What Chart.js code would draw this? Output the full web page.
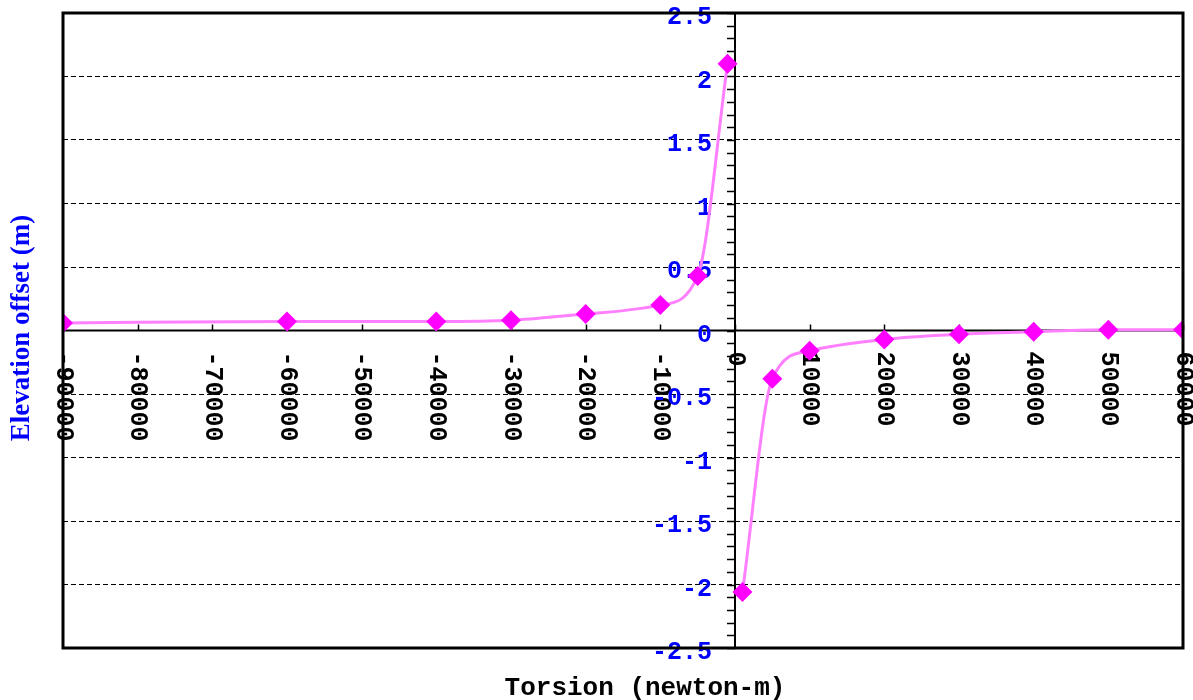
<!DOCTYPE html>
<html>
<head>
<meta charset="utf-8">
<title>Elevation offset vs torsion</title>
<script src="https://cdn.jsdelivr.net/npm/chart.js@4.4.1/dist/chart.umd.min.js"></script>
<style>
  html, body { margin: 0; padding: 0; background: #ffffff; }
  #wrap { position: relative; width: 1193px; height: 700px; }
</style>
</head>
<body>
<div id="wrap"><canvas id="chart"></canvas></div>
<script>
// Data
const leftTorsion = [-90000, -60000, -40000, -30000, -20000, -10000, -5000, -1000];
const leftOffset = [0.06, 0.07, 0.07, 0.08, 0.13, 0.2, 0.43, 2.1];
const rightTorsion = [1000, 5000, 10000, 20000, 30000, 40000, 50000, 60000];
const rightOffset = [-2.06, -0.38, -0.16, -0.07, -0.03, -0.01, 0.005, 0.005];

// Tick labels
const xTickValues = [-90000, -80000, -70000, -60000, -50000, -40000, -30000, -20000, -10000, 0, 10000, 20000, 30000, 40000, 50000, 60000];
const yTickValues = [2.5, 2, 1.5, 1, 0.5, 0, -0.5, -1, -1.5, -2, -2.5];
const yTickLabels = ["2.5", "2", "1.5", "1", "0.5", "0", "-0.5", "-1", "-1.5", "-2", "-2.5"];

const xTitle = "Torsion (newton-m)";
const yTitle = "Elevation offset (m)";

const LINE_COLOR = "#ff80ff";
const MARKER_COLOR = "#ff00ff";
const LABEL_BLUE = "#0000ff";

const toPoints = (xs, ys) => xs.map((x, i) => ({ x, y: ys[i] }));

/**
 * Axes crossing at the origin, drawn from the chart's own scales
 */
const crossAxesPlugin = {
  id: "crossAxes",
  beforeDatasetsDraw(chart) {
    const { ctx, chartArea, scales } = chart;
    const xs = scales.x;
    const ys = scales.y;
    const x0 = xs.getPixelForValue(0);
    const y0 = ys.getPixelForValue(0);

    ctx.save();
    ctx.strokeStyle = "#000000";
    ctx.lineWidth = 2;

    // horizontal axis
    ctx.beginPath();
    ctx.moveTo(chartArea.left, y0);
    ctx.lineTo(chartArea.right, y0);
    ctx.stroke();

    // vertical axis
    ctx.beginPath();
    ctx.moveTo(x0, chartArea.top);
    ctx.lineTo(x0, chartArea.bottom);
    ctx.stroke();

    // x tick marks (upwards)
    ctx.lineWidth = 1.5;
    xTickValues.forEach((v) => {
      const px = Math.round(xs.getPixelForValue(v)) + 0.5;
      ctx.beginPath();
      ctx.moveTo(px, y0);
      ctx.lineTo(px, y0 - 6);
      ctx.stroke();
    });

    // y minor tick marks every 0.1 (to the left)
    for (let i = -25; i <= 25; i++) {
      const py = Math.round(ys.getPixelForValue(i / 10)) + 0.5;
      ctx.beginPath();
      ctx.moveTo(x0 - 8, py);
      ctx.lineTo(x0, py);
      ctx.stroke();
    }

    // x tick labels, rotated clockwise
    ctx.fillStyle = "#000000";
    ctx.font = "bold 25px 'Liberation Mono', 'DejaVu Sans Mono', monospace";
    ctx.textAlign = "left";
    ctx.textBaseline = "middle";
    xTickValues.forEach((v) => {
      const px = xs.getPixelForValue(v);
      ctx.save();
      ctx.translate(px, y0 + 21);
      ctx.rotate(Math.PI / 2);
      ctx.fillText(String(v), 0, 0);
      ctx.restore();
    });

    // y tick labels
    ctx.fillStyle = LABEL_BLUE;
    ctx.textAlign = "right";
    yTickValues.forEach((v, i) => {
      const py = ys.getPixelForValue(v);
      ctx.fillText(yTickLabels[i], x0 - 23, py + 5);
    });

    ctx.restore();
  },
  afterDraw(chart) {
    const { ctx, chartArea } = chart;
    ctx.save();

    // plot frame
    ctx.strokeStyle = "#000000";
    ctx.lineWidth = 3;
    ctx.strokeRect(chartArea.left, chartArea.top, chartArea.right - chartArea.left, chartArea.bottom - chartArea.top);

    // x title
    ctx.fillStyle = "#000000";
    ctx.font = "bold 26px 'Liberation Mono', 'DejaVu Sans Mono', monospace";
    ctx.textAlign = "center";
    ctx.textBaseline = "middle";
    ctx.fillText(xTitle, 645, 688);

    // y title
    ctx.fillStyle = LABEL_BLUE;
    ctx.font = "bold 27px 'Liberation Serif', 'DejaVu Serif', serif";
    ctx.translate(22, 328);
    ctx.rotate(-Math.PI / 2);
    ctx.fillText(yTitle, 0, 0);

    ctx.restore();
  },
};

const seriesStyle = {
  borderColor: LINE_COLOR,
  borderWidth: 3,
  backgroundColor: MARKER_COLOR,
  pointBackgroundColor: MARKER_COLOR,
  pointBorderColor: MARKER_COLOR,
  pointStyle: "rectRot",
  pointRadius: 10,
  pointBorderWidth: 0,
  cubicInterpolationMode: "monotone",
  fill: false,
};

const ctx = document.getElementById("chart").getContext("2d");

new Chart(ctx, {
  type: "line",
  data: {
    datasets: [
      { label: "negative torsion", data: toPoints(leftTorsion, leftOffset), ...seriesStyle },
      { label: "positive torsion", data: toPoints(rightTorsion, rightOffset), ...seriesStyle },
    ],
  },
  options: {
    responsive: true,
    maintainAspectRatio: false,
    animation: false,
    devicePixelRatio: 1,
    layout: {
      padding: { left: 63, right: 9, top: 13, bottom: 52 },
    },
    plugins: {
      legend: { display: false },
      tooltip: { enabled: false },
    },
    scales: {
      x: {
        type: "linear",
        min: -90000,
        max: 60000,
        ticks: { display: false, stepSize: 10000 },
        grid: { display: false, drawTicks: false },
        border: { display: false },
        afterFit: (scale) => {
          scale.height = 0;
        },
      },
      y: {
        type: "linear",
        min: -2.5,
        max: 2.5,
        ticks: { display: false, stepSize: 0.5 },
        grid: {
          drawTicks: false,
          lineWidth: 1,
          color: (c) => {
            const v = c.tick ? c.tick.value : 0;
            return Math.abs(v) < 1e-9 || Math.abs(Math.abs(v) - 2.5) < 1e-9 ? "rgba(0,0,0,0)" : "#000000";
          },
        },
        border: { display: false, dash: [5, 3] },
        afterFit: (scale) => {
          scale.width = 0;
        },
      },
    },
  },
  plugins: [crossAxesPlugin],
});
</script>
</body>
</html>
